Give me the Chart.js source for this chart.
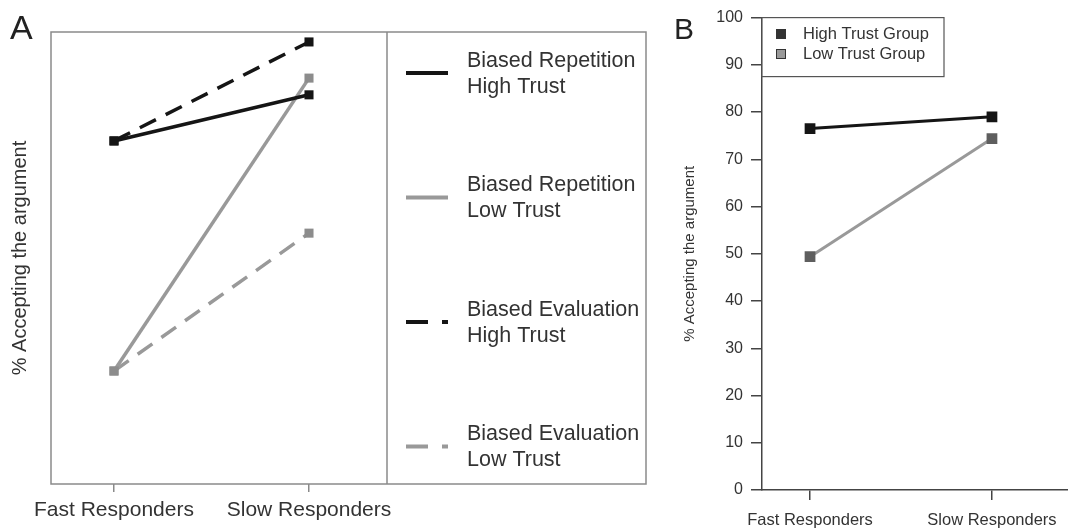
<!DOCTYPE html>
<html>
<head>
<meta charset="utf-8">
<script src="https://cdn.jsdelivr.net/npm/chart.js@4"></script>
<style>
  body { margin: 0; background: #fff; width: 1068px; height: 529px; position: relative; overflow: hidden; font-family: "Liberation Sans", Arial, sans-serif; }
  .wrap { position: absolute; top: 0; height: 529px; }
  #wrapA { left: 0; width: 660px; }
  #wrapB { left: 660px; width: 408px; }
  .letter { position: absolute; color: #222; line-height: 1; }
</style>
</head>
<body>
<div class="wrap" id="wrapA"><canvas id="chartA" width="660" height="529"></canvas></div>
<div class="wrap" id="wrapB"><canvas id="chartB" width="408" height="529"></canvas></div>
<div class="letter" style="left:10px;top:10px;font-size:34px;">A</div>
<div class="letter" style="left:674px;top:14px;font-size:30px;">B</div>
<script>
const groups = ['Fast Responders', 'Slow Responders'];

// Panel A (no y labels, plotted on a hidden 0-100 scale)
const repHighTrust = [75.9, 86.1];
const repLowTrust = [25.0, 89.8];
const evalHighTrust = [75.9, 97.8];
const evalLowTrust = [25.0, 55.5];

// Panel B
const highTrustGroup = [76.5, 79.0];
const lowTrustGroup = [49.4, 74.4];
const pctTicks = [0, 10, 20, 30, 40, 50, 60, 70, 80, 90, 100];

const BLACK = '#151515';
const GREY = '#999999';
const GREY_DARK = '#5e5e5e';

Chart.defaults.font.family = '"Liberation Sans", Arial, sans-serif';
Chart.defaults.color = '#333';

const toPoints = vals => vals.map((y, x) => ({ x, y }));
const onlyGroupTicks = s => { s.ticks = groups.map((_, i) => ({ value: i })); };

// frame around plot A plus the line-style legend box on its right
const frameA = {
  id: 'frameA',
  afterDraw(chart) {
    const { ctx, chartArea: a } = chart;
    const legendRight = 646;
    ctx.save();
    ctx.strokeStyle = '#8a8a8a';
    ctx.lineWidth = 1.5;
    ctx.strokeRect(a.left, a.top, legendRight - a.left, a.bottom - a.top);
    ctx.beginPath();
    ctx.moveTo(a.right, a.top);
    ctx.lineTo(a.right, a.bottom);
    ctx.stroke();

    ctx.font = '21.5px "Liberation Sans", Arial, sans-serif';
    ctx.textBaseline = 'middle';
    ctx.textAlign = 'left';
    chart.data.datasets.forEach((ds, i) => {
      const y = 73 + i * 124.5;
      ctx.strokeStyle = ds.borderColor;
      ctx.lineWidth = 4;
      ctx.setLineDash(ds.borderDash.length ? [22, 14] : []);
      ctx.beginPath();
      ctx.moveTo(406, y);
      ctx.lineTo(448, y);
      ctx.stroke();
      ctx.setLineDash([]);
      ctx.fillStyle = '#333';
      ds.label.forEach((line, j) => ctx.fillText(line, 467, y - 12 + j * 26));
    });
    ctx.restore();
  }
};

new Chart(document.getElementById('chartA'), {
  type: 'line',
  data: {
    datasets: [
      { label: ['Biased Repetition', 'High Trust'], data: toPoints(repHighTrust), borderColor: BLACK, backgroundColor: BLACK, borderDash: [] },
      { label: ['Biased Repetition', 'Low Trust'], data: toPoints(repLowTrust), borderColor: GREY, backgroundColor: '#8c8c8c', borderDash: [] },
      { label: ['Biased Evaluation', 'High Trust'], data: toPoints(evalHighTrust), borderColor: BLACK, backgroundColor: BLACK, borderDash: [18, 11] },
      { label: ['Biased Evaluation', 'Low Trust'], data: toPoints(evalLowTrust), borderColor: GREY, backgroundColor: '#8c8c8c', borderDash: [18, 11] }
    ]
  },
  options: {
    responsive: false,
    animation: false,
    layout: { autoPadding: false, padding: { top: 32, right: 273, left: 0, bottom: 0 } },
    elements: {
      line: { borderWidth: 3.5, tension: 0 },
      point: { pointStyle: 'rect', radius: 6.4, borderWidth: 0 }
    },
    plugins: { legend: { display: false }, tooltip: { enabled: false } },
    scales: {
      x: {
        type: 'linear', min: -0.323, max: 1.4,
        afterBuildTicks: onlyGroupTicks,
        afterFit: s => { s.height = 45; },
        grid: { drawOnChartArea: false, tickLength: 8, color: '#8a8a8a', lineWidth: 1.5 },
        border: { display: false },
        ticks: { callback: v => groups[v], font: { size: 21 }, padding: 6, maxRotation: 0, autoSkip: false }
      },
      y: {
        min: 0, max: 100,
        afterFit: s => { s.width = 51; },
        ticks: { display: false },
        grid: { display: false },
        border: { display: false },
        title: { display: true, text: '% Accepting the argument', font: { size: 20 }, padding: { top: 8, bottom: 0 } }
      }
    }
  },
  plugins: [frameA]
});

// boxed legend with square swatches in the top-left corner of panel B
const legendB = {
  id: 'legendB',
  afterDraw(chart) {
    const { ctx, chartArea: a } = chart;
    ctx.save();
    ctx.fillStyle = '#fff';
    ctx.fillRect(a.left, a.top, 284 - a.left, 59);
    ctx.strokeStyle = '#555';
    ctx.lineWidth = 1.2;
    ctx.strokeRect(a.left, a.top, 284 - a.left, 59);
    ctx.font = '16.5px "Liberation Sans", Arial, sans-serif';
    ctx.textBaseline = 'middle';
    chart.data.datasets.forEach((ds, i) => {
      const y = 34 + i * 20;
      ctx.fillStyle = ds.swatch;
      ctx.fillRect(116.5, y - 4.5, 9, 9);
      ctx.strokeStyle = '#333';
      ctx.lineWidth = 1;
      ctx.strokeRect(116.5, y - 4.5, 9, 9);
      ctx.fillStyle = '#333';
      ctx.fillText(ds.label, 143, y);
    });
    ctx.restore();
  }
};

new Chart(document.getElementById('chartB'), {
  type: 'line',
  data: {
    datasets: [
      { label: 'High Trust Group', data: toPoints(highTrustGroup), borderColor: BLACK, backgroundColor: BLACK, swatch: '#333' },
      { label: 'Low Trust Group', data: toPoints(lowTrustGroup), borderColor: GREY, backgroundColor: GREY_DARK, swatch: '#999' }
    ]
  },
  options: {
    responsive: false,
    animation: false,
    layout: { autoPadding: false, padding: { top: 14, right: 0, left: 0, bottom: 0 } },
    elements: {
      line: { borderWidth: 3, tension: 0 },
      point: { pointStyle: 'rect', radius: 7.6, borderWidth: 0 }
    },
    plugins: { legend: { display: false }, tooltip: { enabled: false } },
    scales: {
      x: {
        type: 'linear', min: -0.264, max: 1.418,
        afterBuildTicks: onlyGroupTicks,
        afterFit: s => { s.height = 39; },
        grid: { drawOnChartArea: false, tickLength: 10, color: '#444', lineWidth: 1.5 },
        border: { display: true, color: '#444', width: 1.5 },
        ticks: { callback: v => groups[v], font: { size: 16.5 }, padding: 11, maxRotation: 0, autoSkip: false }
      },
      y: {
        min: 0, max: 100,
        afterBuildTicks: s => { s.ticks = pctTicks.map(v => ({ value: v })); },
        afterFit: s => { s.width = 102; },
        grid: { drawOnChartArea: false, tickLength: 11, color: '#444', lineWidth: 1.5 },
        border: { display: true, color: '#444', width: 1.5 },
        ticks: { font: { size: 16 }, padding: 8 },
        title: { display: true, text: '% Accepting the argument', font: { size: 15 }, padding: { top: 21, bottom: 0 } }
      }
    }
  },
  plugins: [legendB]
});
</script>
</body>
</html>
